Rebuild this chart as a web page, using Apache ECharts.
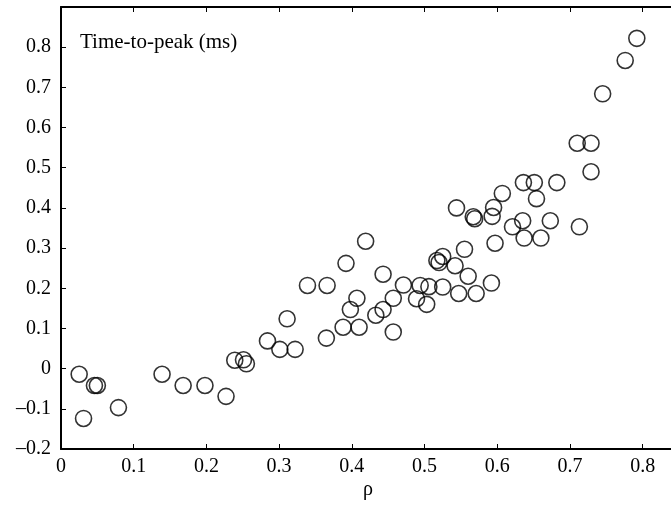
<!DOCTYPE html>
<html><head><meta charset="utf-8">
<script src="https://cdn.jsdelivr.net/npm/echarts@6/dist/echarts.min.js"></script>
<style>html,body{margin:0;padding:0;background:#fff}#c{width:671px;height:506px}</style>
</head><body><div id="c"></div>
<script>
var rho = [0.025,0.031,0.046,0.050,0.079,0.139,0.168,0.198,0.227,0.239,0.251,0.255,0.284,0.301,0.311,0.322,0.339,0.366,0.365,0.388,0.392,0.398,0.407,0.410,0.419,0.433,0.443,0.443,0.457,0.457,0.471,0.489,0.494,0.503,0.506,0.517,0.520,0.525,0.525,0.542,0.544,0.547,0.555,0.560,0.567,0.569,0.571,0.592,0.593,0.595,0.597,0.607,0.621,0.636,0.635,0.637,0.651,0.654,0.660,0.673,0.682,0.710,0.713,0.729,0.729,0.745,0.776,0.792];
var timeToPeak = [-0.014,-0.124,-0.042,-0.042,-0.097,-0.014,-0.042,-0.042,-0.069,0.021,0.022,0.012,0.069,0.048,0.124,0.048,0.207,0.207,0.076,0.103,0.262,0.147,0.175,0.103,0.317,0.133,0.147,0.235,0.175,0.091,0.208,0.174,0.207,0.160,0.204,0.269,0.264,0.279,0.203,0.256,0.400,0.187,0.297,0.230,0.378,0.373,0.187,0.213,0.379,0.401,0.312,0.436,0.353,0.463,0.368,0.325,0.463,0.423,0.325,0.368,0.463,0.561,0.353,0.561,0.490,0.684,0.767,0.822];
var xLabel = 'ρ';
var panelLabel = 'Time-to-peak (ms)';

var fam = '"Liberation Serif", "DejaVu Serif", serif';
function fmt(v){ if (Math.abs(v) < 1e-9) return '0'; return v.toFixed(1).replace('-', '\u2013'); }
var pts = rho.map(function(x,i){ return [x, timeToPeak[i]]; });
var axLine = {show:true, onZero:false, lineStyle:{color:'#000', width:2}};
var tick = {show:true, inside:true, length:5, lineStyle:{color:'#000', width:1}};
var chart = echarts.init(document.getElementById('c'), null, {renderer:'canvas'});
chart.setOption({
  animation:false,
  backgroundColor:'#fff',
  grid:{left:61, top:7, bottom:57, right:0, containLabel:false},
  xAxis:[{
    type:'value', min:0, max:0.839, interval:0.1, position:'bottom',
    axisLine:axLine, axisTick:tick, splitLine:{show:false},
    axisLabel:{formatter:fmt, fontFamily:fam, fontSize:20, color:'#000', margin:8, showMaxLabel:false}
  },{
    type:'value', min:0, max:0.839, interval:0.1, position:'top',
    axisLine:axLine, axisTick:tick, splitLine:{show:false}, axisLabel:{show:false}
  }],
  yAxis:[{
    type:'value', min:-0.2, max:0.9, interval:0.1,
    axisLine:axLine, axisTick:tick, splitLine:{show:false},
    axisLabel:{formatter:fmt, fontFamily:fam, fontSize:20, color:'#000', margin:10, showMaxLabel:false}
  }],
  graphic:[
    {type:'text', left:80, top:32, style:{text:panelLabel, font:'21px ' + fam, fill:'#000'}},
    {type:'text', left:363, top:480, style:{text:xLabel, font:'20px ' + fam, fill:'#000'}}
  ],
  series:[{
    type:'scatter', data:pts, symbol:'circle', symbolSize:16,
    itemStyle:{color:'rgba(0,0,0,0)', borderColor:'#000', borderWidth:1.6}
  }]
});
</script></body></html>
